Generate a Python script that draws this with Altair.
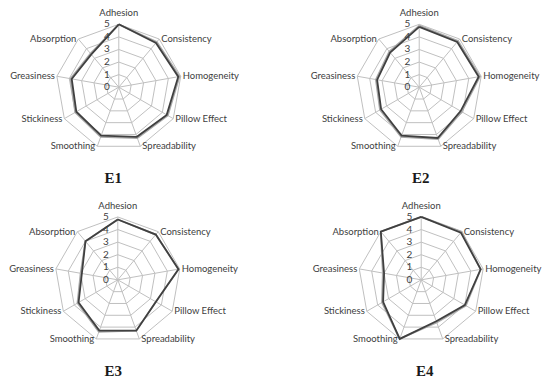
import altair as alt
import pandas as pd

# ---------------- data ----------------
attributes = ["Adhesion", "Consistency", "Homogeneity", "Pillow Effect", "Spreadability",
              "Smoothing", "Stickiness", "Greasiness", "Absorption"]
levels = [1, 2, 3, 4, 5]
tick_values = [0, 1, 2, 3, 4, 5]
panel_names = ["E1", "E2", "E3", "E4"]

E1_dark = [5.0, 4.6, 4.8, 4.4, 4.2, 4.1, 3.9, 3.8, 3.4]
E1_light = [5.0, 4.7, 4.9, 4.5, 4.3, 4.2, 4.0, 3.9, 3.5]
E2_dark = [4.8, 4.7, 4.8, 3.8, 4.3, 4.1, 3.5, 3.4, 3.6]
E2_light = [4.9, 4.8, 4.9, 3.9, 4.4, 4.2, 3.6, 3.5, 3.7]
E3_dark = [4.8, 4.7, 4.9, 3.5, 4.3, 4.3, 3.6, 2.9, 4.0]
E3_light = [4.8, 4.7, 4.9, 3.5, 4.3, 4.4, 3.7, 3.0, 4.0]
E4_dark = [5.0, 4.9, 4.8, 4.0, 3.5, 5.0, 3.5, 3.0, 5.0]
E4_light = [5.0, 5.0, 4.8, 4.1, 3.6, 5.0, 3.6, 3.1, 5.0]

# ---------------- layout ----------------
PX = 12.6      # pixels per unit
W = 267
H = 160
CY = 79
LABEL_FONT = "Lato"
LABEL_SIZE = 9.5
TEXT_COLOR = "#404040"
N = len(attributes)
ANG = f"datum.idx*2*PI/{N}"


def panel(name, dark, light, cx, title_dx):
    rows = []
    for sname, vals in (("b_light", light), ("a_dark", dark)):
        for i in range(N + 1):
            rows.append({"series": sname, "idx": i, "value": vals[i % N]})
    series_df = pd.DataFrame(rows)
    grid_df = pd.DataFrame([{"level": l, "idx": i} for l in levels for i in range(N + 1)])
    axes_df = pd.DataFrame({"attr": attributes, "idx": list(range(N))})
    ticks_df = pd.DataFrame({"tick": tick_values})

    xs = alt.Scale(domain=[-cx / PX, (W - cx) / PX], nice=False, zero=False)
    ys = alt.Scale(domain=[-(H - CY) / PX, CY / PX], nice=False, zero=False)

    def X(f):
        return alt.X(f, scale=xs, axis=None)

    def Y(f):
        return alt.Y(f, scale=ys, axis=None)

    grid = alt.Chart(grid_df).transform_calculate(
        gx=f"datum.level*sin({ANG})", gy=f"datum.level*cos({ANG})"
    ).mark_line(color="#c0c0c0", strokeWidth=1).encode(
        x=X("gx:Q"), y=Y("gy:Q"), detail="level:N", order="idx:Q"
    )

    spokes = alt.Chart(axes_df).transform_calculate(
        zero="0", ex=f"5*sin({ANG})", ey=f"5*cos({ANG})"
    ).mark_rule(color="#c0c0c0", strokeWidth=1).encode(
        x=X("zero:Q"), y=Y("zero:Q"), x2="ex:Q", y2="ey:Q"
    )

    lines = alt.Chart(series_df).transform_calculate(
        px=f"datum.value*sin({ANG})", py=f"datum.value*cos({ANG})"
    ).mark_line(strokeWidth=1.8).encode(
        x=X("px:Q"), y=Y("py:Q"), order="idx:Q",
        color=alt.Color("series:N", scale=alt.Scale(domain=["b_light", "a_dark"],
                                                    range=["#a8a8a8", "#404040"]), legend=None),
        detail="series:N",
    )

    ticks = alt.Chart(ticks_df).transform_calculate(zero="0").mark_text(
        align="right", baseline="middle", dx=-9, font=LABEL_FONT, fontSize=10, color=TEXT_COLOR
    ).encode(x=X("zero:Q"), y=Y("tick:Q"), text="tick:Q")

    base_lab = alt.Chart(axes_df).transform_calculate(
        lx=f"5*sin({ANG})", ly=f"5*cos({ANG})"
    )
    lab_top = base_lab.transform_filter("datum.idx == 0").mark_text(
        align="center", baseline="middle", dy=-11, font=LABEL_FONT, fontSize=LABEL_SIZE, color=TEXT_COLOR
    ).encode(x=X("lx:Q"), y=Y("ly:Q"), text="attr:N")
    lab_right = base_lab.transform_filter("datum.idx >= 1 && datum.idx <= 4").mark_text(
        align="left", baseline="middle", dx=2, font=LABEL_FONT, fontSize=LABEL_SIZE, color=TEXT_COLOR
    ).encode(x=X("lx:Q"), y=Y("ly:Q"), text="attr:N")
    lab_left = base_lab.transform_filter("datum.idx >= 5").mark_text(
        align="right", baseline="middle", dx=-2, font=LABEL_FONT, fontSize=LABEL_SIZE, color=TEXT_COLOR
    ).encode(x=X("lx:Q"), y=Y("ly:Q"), text="attr:N")

    return alt.layer(grid, spokes, lines, ticks, lab_top, lab_right, lab_left).properties(
        width=W, height=H,
        title=alt.TitleParams(text=name, orient="bottom", font="Liberation Serif", fontSize=15,
                              fontWeight="bold", color="#1a1a1a", dx=title_dx, offset=3),
    )


p1 = panel(panel_names[0], E1_dark, E1_light, 111, -28)
p2 = panel(panel_names[1], E2_dark, E2_light, 145, 13)
p3 = panel(panel_names[2], E3_dark, E3_light, 110, -28)
p4 = panel(panel_names[3], E4_dark, E4_light, 147, 17)

chart = alt.concat(p1, p2, p3, p4, columns=2, spacing={"row": 33, "column": 0},
                   bounds="flush").properties(padding=0).configure_view(stroke=None)

chart.save("out.html", embed_options={"renderer": "svg", "actions": False})
